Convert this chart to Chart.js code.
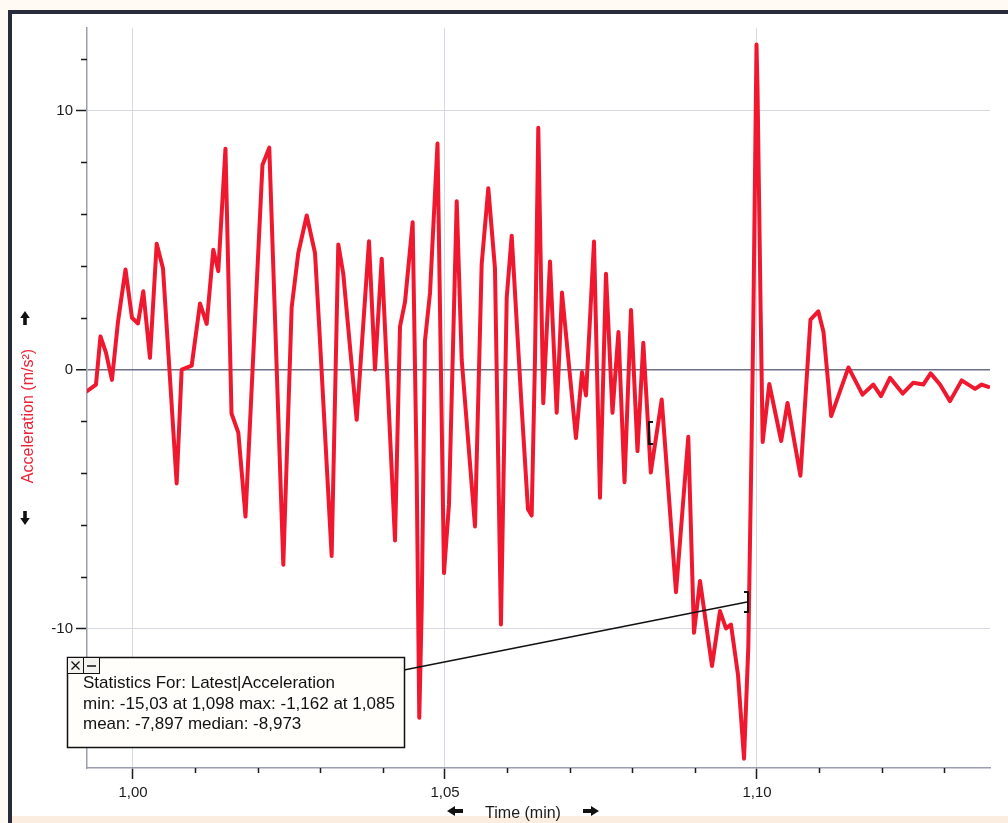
<!DOCTYPE html>
<html>
<head>
<meta charset="utf-8">
<script src="https://cdn.jsdelivr.net/npm/chart.js@4.4.1/dist/chart.umd.min.js"></script>
<style>
  html, body { margin: 0; padding: 0; background: #fff; }
  canvas { display: block; }
</style>
</head>
<body>
<canvas id="accelChart" width="1008" height="823"></canvas>
<script>
const times = [
  0.99263, 0.99407, 0.99479, 0.99567, 0.99663, 0.99760, 0.99880, 0.99984, 1.00080, 1.00165,
  1.00272, 1.00380, 1.00481, 1.00700, 1.00780, 1.00941, 1.01074, 1.01181, 1.01287, 1.01367,
  1.01482, 1.01579, 1.01688, 1.01803, 1.02075, 1.02184, 1.02409, 1.02543, 1.02649, 1.02784,
  1.02917, 1.02981, 1.03184, 1.03290, 1.03370, 1.03585, 1.03782, 1.03878, 1.03986, 1.04199,
  1.04279, 1.04359, 1.04482, 1.04546, 1.04588, 1.04627, 1.04679, 1.04760, 1.04880, 1.04984,
  1.05064, 1.05188, 1.05268, 1.05481, 1.05588, 1.05694, 1.05801, 1.05897, 1.05989, 1.06069,
  1.06229, 1.06330, 1.06389, 1.06442, 1.06495, 1.06575, 1.06683, 1.06790, 1.06875, 1.07099,
  1.07196, 1.07260, 1.07388, 1.07484, 1.07580, 1.07684, 1.07780, 1.07877, 1.07981, 1.08085,
  1.08178, 1.08298, 1.08473, 1.08702, 1.08899, 1.08990, 1.09087, 1.09279, 1.09407, 1.09503,
  1.09583, 1.09696, 1.09792, 1.09861, 1.09915, 1.09941, 1.09992, 1.10008, 1.10059, 1.10091,
  1.10197, 1.10388, 1.10489, 1.10696, 1.10857, 1.10982, 1.11066, 1.11189, 1.11466, 1.11691,
  1.11864, 1.11987, 1.12131, 1.12335, 1.12505, 1.12665, 1.12783, 1.12933, 1.13093, 1.13280,
  1.13494, 1.13601, 1.13707
]
const accel = [
  -0.84, -0.58, 1.28, 0.65, -0.40, 1.85, 3.86, 2.00, 1.78, 3.02,
  0.45, 4.86, 3.90, -4.40, 0.00, 0.15, 2.55, 1.76, 4.63, 3.80,
  8.53, -1.70, -2.44, -5.68, 7.90, 8.57, -7.54, 2.40, 4.50, 5.95,
  4.50, 1.80, -7.20, 4.83, 3.70, -1.94, 4.95, 0.00, 4.28, -6.60,
  1.66, 2.60, 5.69, -3.90, -13.45, -9.20, 1.10, 2.96, 8.73, -7.86,
  -5.20, 6.50, 0.37, -6.06, 4.07, 7.00, 3.90, -9.85, 2.77, 5.17,
  -1.48, -5.40, -5.64, 0.37, 9.34, -1.30, 4.17, -1.67, 2.97, -2.65,
  -0.10, -1.00, 4.94, -4.95, 3.70, -1.67, 1.45, -4.35, 2.30, -3.15,
  1.03, -3.98, -1.16, -8.60, -2.60, -10.17, -8.17, -11.45, -9.33, -10.00,
  -9.85, -11.80, -15.03, -10.70, -2.60, 1.85, 12.55, 10.90, 2.20, -2.80,
  -0.56, -2.76, -1.29, -4.10, 1.93, 2.25, 1.45, -1.80, 0.08, -0.97,
  -0.58, -1.03, -0.32, -0.93, -0.51, -0.58, -0.15, -0.58, -1.22, -0.42,
  -0.75, -0.58, -0.67
]

// Axes
const xMajorTicks = [1.00, 1.05, 1.10]
const xTickLabels = ['1,00', '1,05', '1,10']
const xMinorTicks = [1.01, 1.02, 1.03, 1.04, 1.06, 1.07, 1.08, 1.09, 1.11, 1.12, 1.13]
const yMajorTicks = [-10, 0, 10]
const yTickLabels = ['-10', '0', '10']
const yMinorTicks = [-14, -12, -8, -6, -4, -2, 2, 4, 6, 8, 12]
const xRange = [0.99263, 1.13734]
const yRange = [-15.39, 13.19]

// Selection brackets and statistics
const selStart = { t: 1.08269, v: -2.45 }
const selEnd = { t: 1.09856, v: -8.98 }
const statsLines = [
  'Statistics For: Latest|Acceleration',
  'min: -15,03 at 1,098 max: -1,162 at 1,085',
  'mean: -7,897 median: -8,973'
]

const FONT = "'Liberation Sans', Arial, sans-serif"

function fatArrow(ctx, cx, cy, angle, len, shaft, head, headLen) {
  ctx.save()
  ctx.translate(cx, cy)
  ctx.rotate(angle)
  ctx.beginPath()
  ctx.moveTo(-len / 2, -shaft)
  ctx.lineTo(len / 2 - headLen, -shaft)
  ctx.lineTo(len / 2 - headLen, -head)
  ctx.lineTo(len / 2, 0)
  ctx.lineTo(len / 2 - headLen, head)
  ctx.lineTo(len / 2 - headLen, shaft)
  ctx.lineTo(-len / 2, shaft)
  ctx.closePath()
  ctx.fill()
  ctx.restore()
}

function bracket(ctx, x, y, h, dir) {
  // dir 1 = '[' , -1 = ']'
  ctx.beginPath()
  ctx.moveTo(x + dir * 4, y - h / 2)
  ctx.lineTo(x, y - h / 2)
  ctx.lineTo(x, y + h / 2)
  ctx.lineTo(x + dir * 4, y + h / 2)
  ctx.stroke()
}

const decorPlugin = {
  id: 'decor',
  beforeDraw(chart) {
    const ctx = chart.ctx
    ctx.save()
    ctx.fillStyle = '#fffaf4'
    ctx.fillRect(0, 0, chart.width, chart.height)
    ctx.fillStyle = '#ffffff'
    ctx.fillRect(12, 14, chart.width - 12, chart.height - 21)
    ctx.fillStyle = '#fbeee0'
    ctx.fillRect(12, chart.height - 7, chart.width - 12, 7)
    // dark window frame
    ctx.fillStyle = '#272b3a'
    ctx.fillRect(8, 10, 4, chart.height - 10)
    ctx.fillRect(8, 10, chart.width - 8, 4)
    ctx.restore()
  },
  afterDraw(chart) {
    const ctx = chart.ctx
    const xs = chart.scales.x
    const ys = chart.scales.y
    const area = chart.chartArea
    ctx.save()

    // minor ticks
    ctx.strokeStyle = '#1b1b1b'
    ctx.lineWidth = 1.5
    ctx.beginPath()
    xMinorTicks.forEach(v => {
      const px = Math.round(xs.getPixelForValue(v)) + 0.5
      ctx.moveTo(px, area.bottom)
      ctx.lineTo(px, area.bottom + 5)
    })
    yMinorTicks.forEach(v => {
      const py = Math.round(ys.getPixelForValue(v)) + 0.5
      ctx.moveTo(area.left - 6, py)
      ctx.lineTo(area.left, py)
    })
    ctx.stroke()

    // axis titles
    ctx.font = '16px ' + FONT
    ctx.fillStyle = '#1b1b1b'
    ctx.textAlign = 'center'
    ctx.textBaseline = 'alphabetic'
    ctx.fillText('Time (min)', 523, 818)

    ctx.save()
    ctx.translate(29, 416)
    ctx.rotate(-Math.PI / 2)
    ctx.fillStyle = '#ec2336'
    ctx.textBaseline = 'middle'
    ctx.fillText('Acceleration (m/s²)', 0, 0)
    ctx.restore()

    // arrows
    ctx.fillStyle = '#111'
    fatArrow(ctx, 455, 811, Math.PI, 16, 2, 5, 8)
    fatArrow(ctx, 591, 811, 0, 16, 2, 5, 8)
    fatArrow(ctx, 25, 318, -Math.PI / 2, 14, 1.8, 4.8, 7)
    fatArrow(ctx, 25, 518, Math.PI / 2, 14, 1.8, 4.8, 7)

    // selection brackets and connector
    const bx1 = xs.getPixelForValue(selStart.t)
    const by1 = ys.getPixelForValue(selStart.v)
    const bx2 = xs.getPixelForValue(selEnd.t)
    const by2 = ys.getPixelForValue(selEnd.v)
    ctx.strokeStyle = '#111'
    ctx.lineWidth = 2
    bracket(ctx, bx1, by1, 22, 1)
    bracket(ctx, bx2, by2, 20, -1)

    const box = { x: 67, y: 657, w: 337, h: 90 }
    ctx.lineWidth = 1.5
    ctx.beginPath()
    ctx.moveTo(box.x + box.w, 670)
    ctx.lineTo(bx2 - 1, by2)
    ctx.stroke()

    // statistics box
    ctx.fillStyle = '#fffefb'
    ctx.fillRect(box.x, box.y, box.w, box.h)
    ctx.strokeStyle = '#111'
    ctx.lineWidth = 1.5
    ctx.strokeRect(box.x + 0.5, box.y + 0.5, box.w, box.h)

    // close / minimise buttons
    ctx.lineWidth = 1
    ctx.fillStyle = '#f4f2ee'
    ctx.fillRect(67.5, 657.5, 16, 16)
    ctx.fillRect(83.5, 657.5, 16, 16)
    ctx.strokeRect(67.5, 657.5, 16, 16)
    ctx.strokeRect(83.5, 657.5, 16, 16)
    ctx.lineWidth = 1.3
    ctx.beginPath()
    ctx.moveTo(71.5, 661.5); ctx.lineTo(79.5, 669.5)
    ctx.moveTo(79.5, 661.5); ctx.lineTo(71.5, 669.5)
    ctx.moveTo(87, 666); ctx.lineTo(96, 666)
    ctx.stroke()

    ctx.fillStyle = '#111'
    ctx.font = '17px ' + FONT
    ctx.textAlign = 'left'
    ctx.textBaseline = 'alphabetic'
    statsLines.forEach((line, i) => {
      ctx.fillText(line, 83, 688 + i * 20.5)
    })

    ctx.restore()
  }
}

new Chart(document.getElementById('accelChart'), {
  type: 'line',
  data: {
    datasets: [{
      data: times.map((t, i) => ({ x: t, y: accel[i] })),
      borderColor: '#f0182e',
      borderWidth: 4,
      pointRadius: 0,
      tension: 0,
      borderJoinStyle: 'round',
      borderCapStyle: 'round'
    }]
  },
  options: {
    responsive: false,
    animation: false,
    devicePixelRatio: 1,
    layout: { padding: { top: 28, right: 18, left: 0, bottom: 0 } },
    plugins: {
      legend: { display: false },
      tooltip: { enabled: false }
    },
    scales: {
      x: {
        type: 'linear',
        min: xRange[0],
        max: xRange[1],
        afterBuildTicks: scale => { scale.ticks = xMajorTicks.map(v => ({ value: v })) },
        afterFit: scale => { scale.height = 55 },
        ticks: {
          autoSkip: false,
          maxRotation: 0,
          padding: 5,
          color: '#1b1b1b',
          font: { family: FONT, size: 15 },
          callback: (value, index) => xTickLabels[index]
        },
        grid: {
          color: '#d6d9e3',
          lineWidth: 1,
          tickLength: 11,
          tickColor: '#1b1b1b',
          tickWidth: 1.5
        },
        border: { color: '#9a9eae', width: 1.5 }
      },
      y: {
        type: 'linear',
        min: yRange[0],
        max: yRange[1],
        afterBuildTicks: scale => { scale.ticks = yMajorTicks.map(v => ({ value: v })) },
        afterFit: scale => { scale.width = 87 },
        ticks: {
          autoSkip: false,
          padding: 3,
          color: '#1b1b1b',
          font: { family: FONT, size: 15 },
          callback: (value, index) => yTickLabels[index]
        },
        grid: {
          color: ctx => ctx.tick && ctx.tick.value === 0 ? '#6c7086' : '#d6d9e3',
          lineWidth: ctx => ctx.tick && ctx.tick.value === 0 ? 1.5 : 1,
          tickLength: 11,
          tickColor: '#1b1b1b',
          tickWidth: 1.5
        },
        border: { color: '#9a9eae', width: 1.5 }
      }
    }
  },
  plugins: [decorPlugin]
})
</script>
</body>
</html>
